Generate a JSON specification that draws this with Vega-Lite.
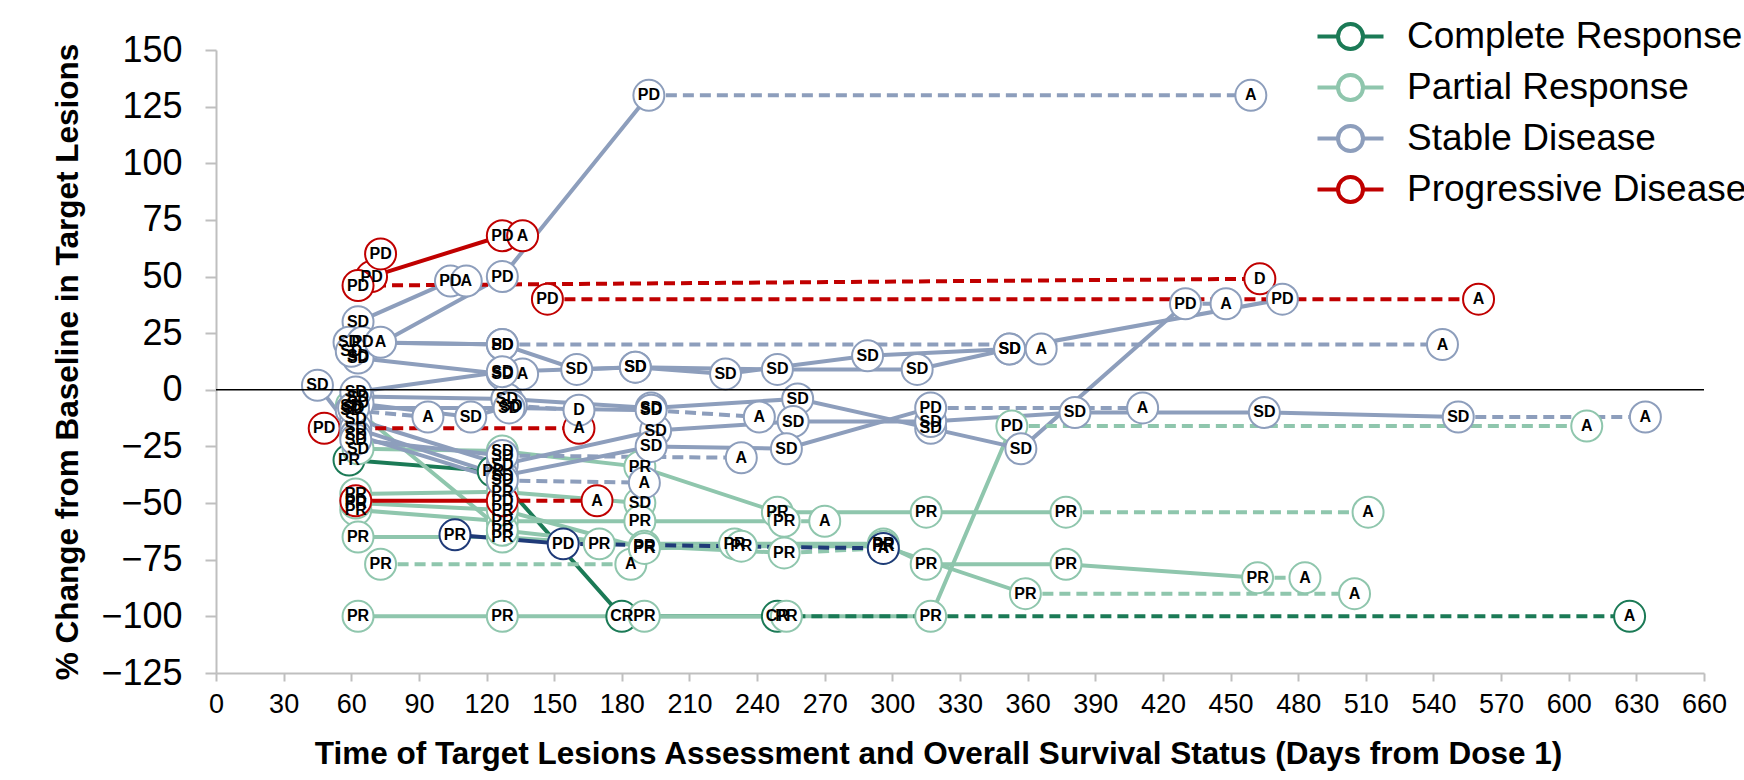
{
  "$schema": "https://vega.github.io/schema/vega-lite/v6.json",
  "width": 1488,
  "height": 623,
  "autosize": {"type": "none"},
  "padding": {"left": 216, "top": 50, "right": 40, "bottom": 107},
  "background": "white",
  "config": {"view": {"stroke": null}, "font": "Liberation Sans"},
  "data": {
    "values": [
      {"pid": "C1", "best": "Complete Response", "day": 59, "pct": -31, "lab": "PR"},
      {"pid": "C1", "best": "Complete Response", "day": 123, "pct": -36, "lab": "PR"},
      {"pid": "C1", "best": "Complete Response", "day": 180, "pct": -100, "lab": "CR"},
      {"pid": "C1", "best": "Complete Response", "day": 249, "pct": -100, "lab": "CR"},
      {"pid": "C1", "best": "Complete Response", "day": 627, "pct": -100, "lab": "A"},

      {"pid": "G1", "best": "Partial Response", "day": 63, "pct": -100, "lab": "PR"},
      {"pid": "G1", "best": "Partial Response", "day": 127, "pct": -100, "lab": "PR"},
      {"pid": "G1", "best": "Partial Response", "day": 190, "pct": -100, "lab": "PR"},
      {"pid": "G1", "best": "Partial Response", "day": 253, "pct": -100, "lab": "PR"},
      {"pid": "G1", "best": "Partial Response", "day": 317, "pct": -100, "lab": "PR"},
      {"pid": "G1", "best": "Partial Response", "day": 353, "pct": -16, "lab": "PD"},
      {"pid": "G1", "best": "Partial Response", "day": 608, "pct": -16, "lab": "A"},
      {"pid": "G2", "best": "Partial Response", "day": 62, "pct": -46, "lab": "PR"},
      {"pid": "G2", "best": "Partial Response", "day": 127, "pct": -45, "lab": "PR"},
      {"pid": "G2", "best": "Partial Response", "day": 188, "pct": -50, "lab": "SD"},
      {"pid": "G3", "best": "Partial Response", "day": 63, "pct": -26, "lab": "SD"},
      {"pid": "G3", "best": "Partial Response", "day": 127, "pct": -27, "lab": "SD"},
      {"pid": "G3", "best": "Partial Response", "day": 188, "pct": -34, "lab": "PR"},
      {"pid": "G3", "best": "Partial Response", "day": 249, "pct": -54, "lab": "PR"},
      {"pid": "G3", "best": "Partial Response", "day": 315, "pct": -54, "lab": "PR"},
      {"pid": "G3", "best": "Partial Response", "day": 377, "pct": -54, "lab": "PR"},
      {"pid": "G3", "best": "Partial Response", "day": 511, "pct": -54, "lab": "A"},
      {"pid": "G4", "best": "Partial Response", "day": 62, "pct": -53, "lab": "PR"},
      {"pid": "G4", "best": "Partial Response", "day": 127, "pct": -58, "lab": "PR"},
      {"pid": "G4", "best": "Partial Response", "day": 188, "pct": -58, "lab": "PR"},
      {"pid": "G4", "best": "Partial Response", "day": 252, "pct": -58, "lab": "PR"},
      {"pid": "G4", "best": "Partial Response", "day": 270, "pct": -58, "lab": "A"},
      {"pid": "G5", "best": "Partial Response", "day": 63, "pct": -65, "lab": "PR"},
      {"pid": "G5", "best": "Partial Response", "day": 127, "pct": -65, "lab": "PR"},
      {"pid": "G5", "best": "Partial Response", "day": 170, "pct": -68, "lab": "PR"},
      {"pid": "G5", "best": "Partial Response", "day": 230, "pct": -68, "lab": "PR"},
      {"pid": "G5", "best": "Partial Response", "day": 296, "pct": -68, "lab": "PR"},
      {"pid": "G5", "best": "Partial Response", "day": 315, "pct": -77, "lab": "PR"},
      {"pid": "G5", "best": "Partial Response", "day": 377, "pct": -77, "lab": "PR"},
      {"pid": "G5", "best": "Partial Response", "day": 462, "pct": -83, "lab": "PR"},
      {"pid": "G5", "best": "Partial Response", "day": 483, "pct": -83, "lab": "A"},
      {"pid": "G6", "best": "Partial Response", "day": 73, "pct": -77, "lab": "PR"},
      {"pid": "G6", "best": "Partial Response", "day": 184, "pct": -77, "lab": "A"},
      {"pid": "G7", "best": "Partial Response", "day": 60, "pct": -7, "lab": "SD"},
      {"pid": "G7", "best": "Partial Response", "day": 127, "pct": -62, "lab": "PR"},
      {"pid": "G7", "best": "Partial Response", "day": 190, "pct": -69, "lab": "PR"},
      {"pid": "G7", "best": "Partial Response", "day": 252, "pct": -72, "lab": "PR"},
      {"pid": "G7", "best": "Partial Response", "day": 296, "pct": -70, "lab": "A"},
      {"pid": "G8", "best": "Partial Response", "day": 62, "pct": -50, "lab": "PR"},
      {"pid": "G8", "best": "Partial Response", "day": 127, "pct": -53, "lab": "PR"},
      {"pid": "G8", "best": "Partial Response", "day": 190, "pct": -70, "lab": "PR"},
      {"pid": "G8", "best": "Partial Response", "day": 233, "pct": -69, "lab": "PR"},
      {"pid": "G8", "best": "Partial Response", "day": 296, "pct": -69, "lab": "PR"},
      {"pid": "G8", "best": "Partial Response", "day": 359, "pct": -90, "lab": "PR"},
      {"pid": "G8", "best": "Partial Response", "day": 505, "pct": -90, "lab": "A"},

      {"pid": "N1", "best": "Other", "day": 106, "pct": -64, "lab": "PR"},
      {"pid": "N1", "best": "Other", "day": 154, "pct": -68, "lab": "PD"},
      {"pid": "N1", "best": "Other", "day": 296, "pct": -70, "lab": "A"},

      {"pid": "R1", "best": "Progressive Disease", "day": 69, "pct": 50, "lab": "PD"},
      {"pid": "R1", "best": "Progressive Disease", "day": 127, "pct": 68, "lab": "PD"},
      {"pid": "R1", "best": "Progressive Disease", "day": 136, "pct": 68, "lab": "A"},
      {"pid": "R2", "best": "Progressive Disease", "day": 63, "pct": 46, "lab": "PD"},
      {"pid": "R2", "best": "Progressive Disease", "day": 463, "pct": 49, "lab": "D"},
      {"pid": "R3", "best": "Progressive Disease", "day": 73, "pct": 60, "lab": "PD"},
      {"pid": "R4", "best": "Progressive Disease", "day": 147, "pct": 40, "lab": "PD"},
      {"pid": "R4", "best": "Progressive Disease", "day": 560, "pct": 40, "lab": "A"},
      {"pid": "R5", "best": "Progressive Disease", "day": 48, "pct": -17, "lab": "PD"},
      {"pid": "R5", "best": "Progressive Disease", "day": 161, "pct": -17, "lab": "A"},
      {"pid": "R6", "best": "Progressive Disease", "day": 62, "pct": -49, "lab": "PD"},
      {"pid": "R6", "best": "Progressive Disease", "day": 127, "pct": -49, "lab": "PD"},
      {"pid": "R6", "best": "Progressive Disease", "day": 169, "pct": -49, "lab": "A"},

      {"pid": "S1", "best": "Stable Disease", "day": 63, "pct": 15, "lab": "SD"},
      {"pid": "S1", "best": "Stable Disease", "day": 127, "pct": 50, "lab": "PD"},
      {"pid": "S1", "best": "Stable Disease", "day": 192, "pct": 130, "lab": "PD"},
      {"pid": "S1", "best": "Stable Disease", "day": 459, "pct": 130, "lab": "A"},
      {"pid": "S2", "best": "Stable Disease", "day": 63, "pct": 30, "lab": "SD"},
      {"pid": "S2", "best": "Stable Disease", "day": 104, "pct": 48, "lab": "PD"},
      {"pid": "S2", "best": "Stable Disease", "day": 111, "pct": 48, "lab": "A"},
      {"pid": "S3", "best": "Stable Disease", "day": 59, "pct": 21, "lab": "SD"},
      {"pid": "S3", "best": "Stable Disease", "day": 127, "pct": 20, "lab": "SD"},
      {"pid": "S3", "best": "Stable Disease", "day": 160, "pct": 9, "lab": "SD"},
      {"pid": "S3", "best": "Stable Disease", "day": 186, "pct": 10, "lab": "SD"},
      {"pid": "S3", "best": "Stable Disease", "day": 226, "pct": 7, "lab": "SD"},
      {"pid": "S3", "best": "Stable Disease", "day": 289, "pct": 15, "lab": "SD"},
      {"pid": "S3", "best": "Stable Disease", "day": 352, "pct": 18, "lab": "SD"},
      {"pid": "S3", "best": "Stable Disease", "day": 473, "pct": 40, "lab": "PD"},
      {"pid": "S4", "best": "Stable Disease", "day": 65, "pct": 21, "lab": "PD"},
      {"pid": "S4", "best": "Stable Disease", "day": 127, "pct": 20, "lab": "PD"},
      {"pid": "S4", "best": "Stable Disease", "day": 544, "pct": 20, "lab": "A"},
      {"pid": "S5", "best": "Stable Disease", "day": 63, "pct": 14, "lab": "SD"},
      {"pid": "S5", "best": "Stable Disease", "day": 127, "pct": 7, "lab": "SD"},
      {"pid": "S5", "best": "Stable Disease", "day": 136, "pct": 7, "lab": "A"},
      {"pid": "S6", "best": "Stable Disease", "day": 63, "pct": -3, "lab": "SD"},
      {"pid": "S6", "best": "Stable Disease", "day": 129, "pct": -4, "lab": "SD"},
      {"pid": "S6", "best": "Stable Disease", "day": 193, "pct": -8, "lab": "SD"},
      {"pid": "S6", "best": "Stable Disease", "day": 258, "pct": -4, "lab": "SD"},
      {"pid": "S6", "best": "Stable Disease", "day": 317, "pct": -17, "lab": "SD"},
      {"pid": "S6", "best": "Stable Disease", "day": 357, "pct": -26, "lab": "SD"},
      {"pid": "S6", "best": "Stable Disease", "day": 430, "pct": 38, "lab": "PD"},
      {"pid": "S6", "best": "Stable Disease", "day": 448, "pct": 38, "lab": "A"},
      {"pid": "S7", "best": "Stable Disease", "day": 63, "pct": -6, "lab": "SD"},
      {"pid": "S7", "best": "Stable Disease", "day": 113, "pct": -12, "lab": "SD"},
      {"pid": "S7", "best": "Stable Disease", "day": 131, "pct": -7, "lab": "SD"},
      {"pid": "S7", "best": "Stable Disease", "day": 161, "pct": -9, "lab": "D"},
      {"pid": "S8", "best": "Stable Disease", "day": 60, "pct": -9, "lab": "SD"},
      {"pid": "S8", "best": "Stable Disease", "day": 94, "pct": -12, "lab": "A"},
      {"pid": "S9", "best": "Stable Disease", "day": 62, "pct": -1, "lab": "SD"},
      {"pid": "S9", "best": "Stable Disease", "day": 127, "pct": 8, "lab": "SD"},
      {"pid": "S9", "best": "Stable Disease", "day": 186, "pct": 10, "lab": "SD"},
      {"pid": "S9", "best": "Stable Disease", "day": 249, "pct": 9, "lab": "SD"},
      {"pid": "S9", "best": "Stable Disease", "day": 311, "pct": 9, "lab": "SD"},
      {"pid": "S9", "best": "Stable Disease", "day": 352, "pct": 18, "lab": "SD"},
      {"pid": "S9", "best": "Stable Disease", "day": 366, "pct": 18, "lab": "A"},
      {"pid": "S10", "best": "Stable Disease", "day": 62, "pct": -13, "lab": "SD"},
      {"pid": "S10", "best": "Stable Disease", "day": 127, "pct": -33, "lab": "SD"},
      {"pid": "S10", "best": "Stable Disease", "day": 195, "pct": -18, "lab": "SD"},
      {"pid": "S10", "best": "Stable Disease", "day": 256, "pct": -14, "lab": "SD"},
      {"pid": "S10", "best": "Stable Disease", "day": 317, "pct": -14, "lab": "SD"},
      {"pid": "S10", "best": "Stable Disease", "day": 381, "pct": -10, "lab": "SD"},
      {"pid": "S10", "best": "Stable Disease", "day": 465, "pct": -10, "lab": "SD"},
      {"pid": "S10", "best": "Stable Disease", "day": 551, "pct": -12, "lab": "SD"},
      {"pid": "S10", "best": "Stable Disease", "day": 634, "pct": -12, "lab": "A"},
      {"pid": "S11", "best": "Stable Disease", "day": 62, "pct": -17, "lab": "SD"},
      {"pid": "S11", "best": "Stable Disease", "day": 127, "pct": -38, "lab": "SD"},
      {"pid": "S11", "best": "Stable Disease", "day": 193, "pct": -25, "lab": "SD"},
      {"pid": "S11", "best": "Stable Disease", "day": 253, "pct": -26, "lab": "SD"},
      {"pid": "S11", "best": "Stable Disease", "day": 317, "pct": -8, "lab": "PD"},
      {"pid": "S11", "best": "Stable Disease", "day": 411, "pct": -8, "lab": "A"},
      {"pid": "S12", "best": "Stable Disease", "day": 60, "pct": 17, "lab": "SD"},
      {"pid": "S12", "best": "Stable Disease", "day": 73, "pct": 21, "lab": "A"},
      {"pid": "S13", "best": "Stable Disease", "day": 45, "pct": 2, "lab": "SD"},
      {"pid": "S13", "best": "Stable Disease", "day": 62, "pct": -20, "lab": "SD"},
      {"pid": "S13", "best": "Stable Disease", "day": 127, "pct": -40, "lab": "SD"},
      {"pid": "S13", "best": "Stable Disease", "day": 190, "pct": -41, "lab": "A"},
      {"pid": "S14", "best": "Stable Disease", "day": 62, "pct": -22, "lab": "SD"},
      {"pid": "S14", "best": "Stable Disease", "day": 127, "pct": -29, "lab": "SD"},
      {"pid": "S14", "best": "Stable Disease", "day": 233, "pct": -30, "lab": "A"},
      {"pid": "S15", "best": "Stable Disease", "day": 61, "pct": -8, "lab": "SD"},
      {"pid": "S15", "best": "Stable Disease", "day": 130, "pct": -8, "lab": "SD"},
      {"pid": "S15", "best": "Stable Disease", "day": 193, "pct": -9, "lab": "SD"},
      {"pid": "S15", "best": "Stable Disease", "day": 241, "pct": -12, "lab": "A"}
    ]
  },
  "layer": [
    {
      "transform": [{"filter": "datum.lab !== 'A' && datum.lab !== 'D'"}],
      "mark": {"type": "line", "strokeWidth": 4},
      "encoding": {
        "x": {
          "field": "day", "type": "quantitative",
          "scale": {"domain": [0, 660], "nice": false, "zero": false},
          "axis": {
            "title": "Time of Target Lesions Assessment and Overall Survival Status (Days from Dose 1)",
            "values": [0, 30, 60, 90, 120, 150, 180, 210, 240, 270, 300, 330, 360, 390, 420, 450, 480, 510, 540, 570, 600, 630, 660],
            "grid": false,
            "domainColor": "#bfbfbf", "domainWidth": 2,
            "tickColor": "#bfbfbf", "tickWidth": 2, "tickSize": 8,
            "labelFont": "Liberation Sans", "labelFontSize": 27, "labelColor": "#000000", "labelPadding": 10,
            "labelFlush": false, "labelOverlap": false,
            "titleFont": "Liberation Sans", "titleFontSize": 31.5, "titleFontWeight": "bold", "titleColor": "#000000",
            "titlePadding": 21, "titleX": 722, "titleAlign": "center"
          }
        },
        "y": {
          "field": "pct", "type": "quantitative",
          "scale": {"domain": [-125, 150], "nice": false, "zero": false},
          "axis": {
            "title": "% Change from Baseline in Target Lesions",
            "values": [-125, -100, -75, -50, -25, 0, 25, 50, 75, 100, 125, 150],
            "grid": false,
            "domainColor": "#bfbfbf", "domainWidth": 2,
            "tickColor": "#bfbfbf", "tickWidth": 2, "tickSize": 11,
            "labelFont": "Liberation Sans", "labelFontSize": 36, "labelColor": "#000000", "labelPadding": 23,
            "labelFlush": false, "labelOverlap": false,
            "titleFont": "Liberation Sans", "titleFontSize": 31.5, "titleFontWeight": "bold", "titleColor": "#000000",
            "titlePadding": 16
          }
        },
        "stroke": {
          "field": "best", "type": "nominal",
          "scale": {
            "domain": ["Complete Response", "Partial Response", "Stable Disease", "Progressive Disease", "Other"],
            "range": ["#1b7a56", "#8fc6ad", "#8d9ebc", "#c00000", "#1f3a78"]
          }
        },
        "detail": {"field": "pid"},
        "order": {"field": "day", "type": "quantitative"}
      }
    },
    {
      "transform": [
        {"calculate": "datum.lab === 'A' || datum.lab === 'D' ? null : datum.day", "as": "scanDay"},
        {"joinaggregate": [{"op": "max", "field": "scanDay", "as": "lastScan"}], "groupby": ["pid"]},
        {"filter": "datum.lab === 'A' || datum.lab === 'D' || datum.day === datum.lastScan"}
      ],
      "mark": {"type": "line", "strokeWidth": 4, "strokeDash": [11, 6]},
      "encoding": {
        "x": {"field": "day", "type": "quantitative"},
        "y": {"field": "pct", "type": "quantitative"},
        "stroke": {"field": "best", "type": "nominal"},
        "detail": {"field": "pid"},
        "order": {"field": "day", "type": "quantitative"}
      }
    },
    {
      "mark": {"type": "point", "shape": "circle", "filled": true, "fill": "white", "size": 960, "strokeWidth": 2, "opacity": 1},
      "encoding": {
        "x": {"field": "day", "type": "quantitative"},
        "y": {"field": "pct", "type": "quantitative"},
        "stroke": {
          "field": "best", "type": "nominal",
          "legend": {
            "title": null,
            "orient": "none",
            "legendX": 1116,
            "legendY": -32,
            "padding": 0,
            "values": ["Complete Response", "Partial Response", "Stable Disease", "Progressive Disease"],
            "symbolType": "M-2.64,0H-1M1,0H2.64M-1,0A1,1,0,1,0,1,0A1,1,0,1,0,-1,0",
            "symbolSize": 625,
            "symbolStrokeWidth": 4,
            "symbolFillColor": "white",
            "symbolOpacity": 1,
            "labelFont": "Liberation Sans",
            "labelFontSize": 37,
            "labelColor": "#000000",
            "labelOffset": 38,
            "labelLimit": 0,
            "rowPadding": 10
          }
        }
      }
    },
    {
      "data": {"values": [{}]},
      "mark": {"type": "rule", "color": "#000000", "strokeWidth": 1.5},
      "encoding": {
        "x": {"datum": 0},
        "x2": {"datum": 660},
        "y": {"datum": 0}
      }
    },
    {
      "mark": {"type": "text", "font": "Liberation Sans", "fontWeight": "bold", "fontSize": 16, "color": "#000000", "align": "center", "baseline": "middle"},
      "encoding": {
        "x": {"field": "day", "type": "quantitative"},
        "y": {"field": "pct", "type": "quantitative"},
        "text": {"field": "lab"}
      }
    }
  ]
}
